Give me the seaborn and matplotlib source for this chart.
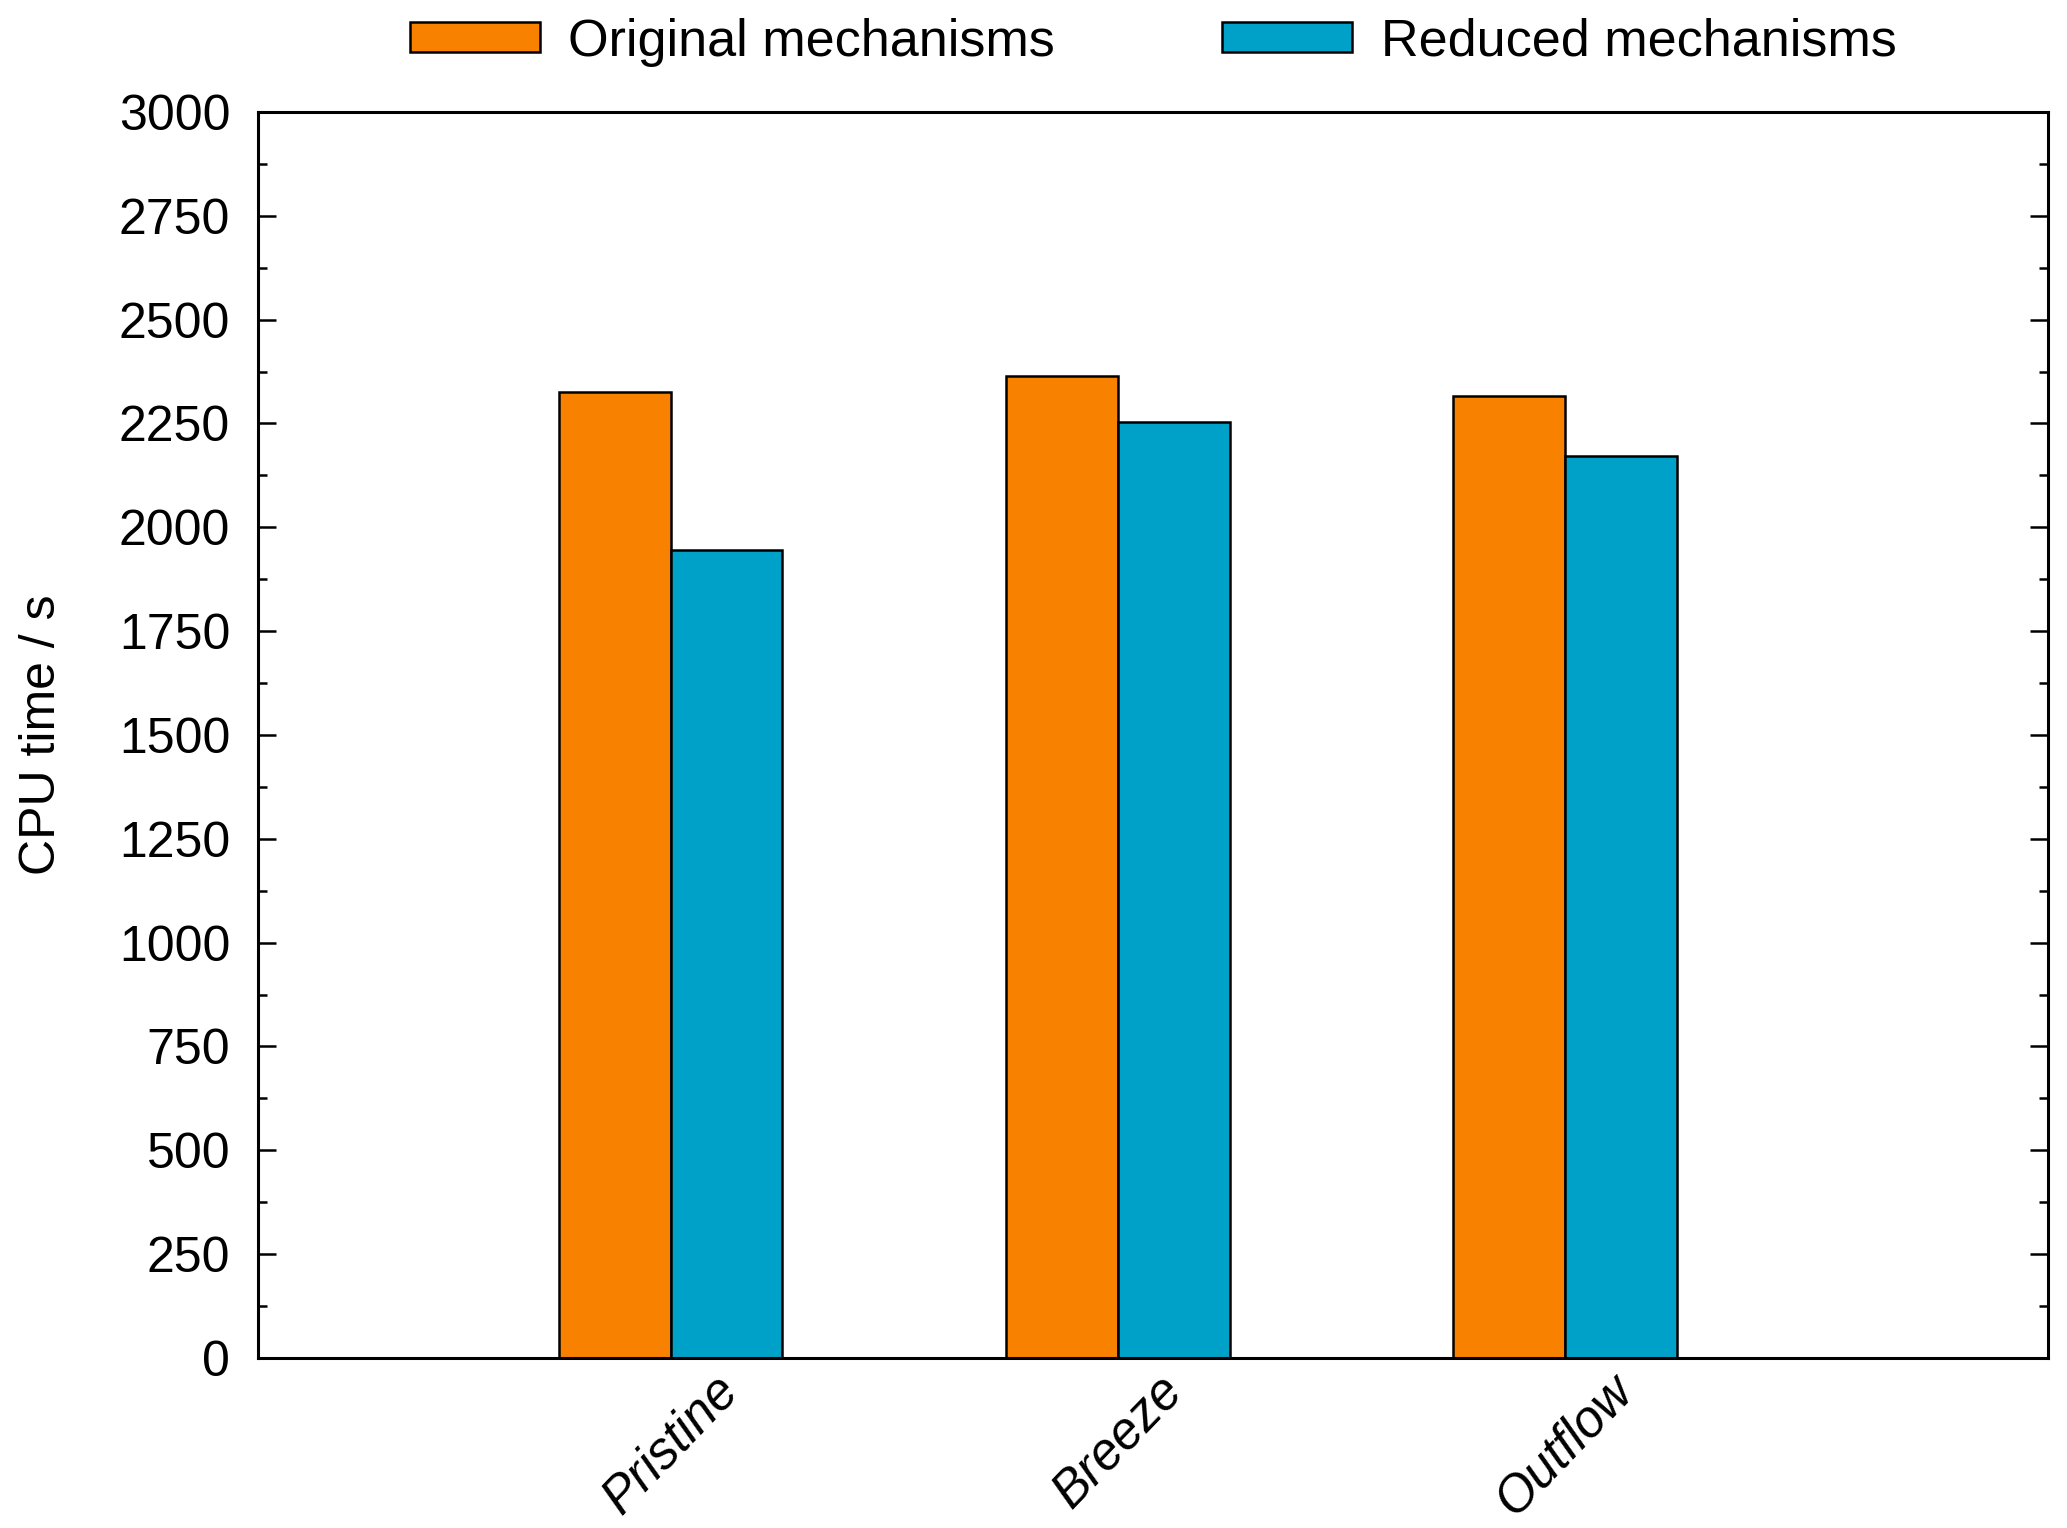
import pandas as pd
import matplotlib.pyplot as plt
from matplotlib.ticker import MultipleLocator
import seaborn as sns

# ============================
# Datos
# ============================
cases = ["Pristine", "Breeze", "Outflow"]
original = [2325, 2365, 2315]
reduced = [1945, 2253, 2172]
series_names = ["Original mechanisms", "Reduced mechanisms"]
y_ticks = list(range(0, 3001, 250))

df = pd.DataFrame({
    "case": cases * 2,
    "mechanism": [series_names[0]] * 3 + [series_names[1]] * 3,
    "cpu": original + reduced,
})

# ============================
# Estilo
# ============================
sns.set_style("ticks")
plt.rcParams["font.family"] = ["Liberation Sans", "DejaVu Sans"]
plt.rcParams["font.size"] = 36
plt.rcParams["text.color"] = "black"
plt.rcParams["axes.labelcolor"] = "black"
plt.rcParams["xtick.color"] = "black"
plt.rcParams["ytick.color"] = "black"
plt.rcParams["axes.edgecolor"] = "black"

fig = plt.figure(figsize=(20.67, 15.28), dpi=100)
ax = fig.add_axes([0.1248, 0.1113, 0.8660, 0.8154])

sns.barplot(
    data=df, x="case", y="cpu", hue="mechanism",
    palette=["#F98100", "#00A1C8"], saturation=1, width=0.5,
    edgecolor="black", linewidth=1.8, ax=ax,
)

ax.set_xlim(-0.923, 3.08)
ax.set_ylim(0, 3000)
ax.set_yticks(y_ticks)
ax.yaxis.set_minor_locator(MultipleLocator(125))
ax.set_xlabel("")
ax.set_ylabel("CPU time / s", fontsize=36)
ax.yaxis.set_label_coords(-0.108, 0.5)

for s in ax.spines.values():
    s.set_visible(True)
    s.set_linewidth(2.2)
    s.set_color("black")

ax.tick_params(axis="y", which="major", direction="in", length=13, width=1.8,
               labelsize=36, pad=20, left=True, right=True)
ax.tick_params(axis="y", which="minor", direction="in", length=6.5, width=1.8,
               left=True, right=True)
ax.tick_params(axis="x", length=0, labelsize=37, pad=6)
for lbl in ax.get_xticklabels():
    lbl.set_rotation(46)
    lbl.set_style("italic")
    lbl.set_ha("center")

handles, labels = ax.get_legend_handles_labels()
ax.legend(
    handles, labels, ncol=2, loc="center", bbox_to_anchor=(0.5, 1.056),
    frameon=False, fontsize=37.5, handlelength=2.5, handleheight=0.5,
    handletextpad=0.55, columnspacing=3.2,
)

fig.savefig("out.png", dpi=100)
plt.close(fig)
